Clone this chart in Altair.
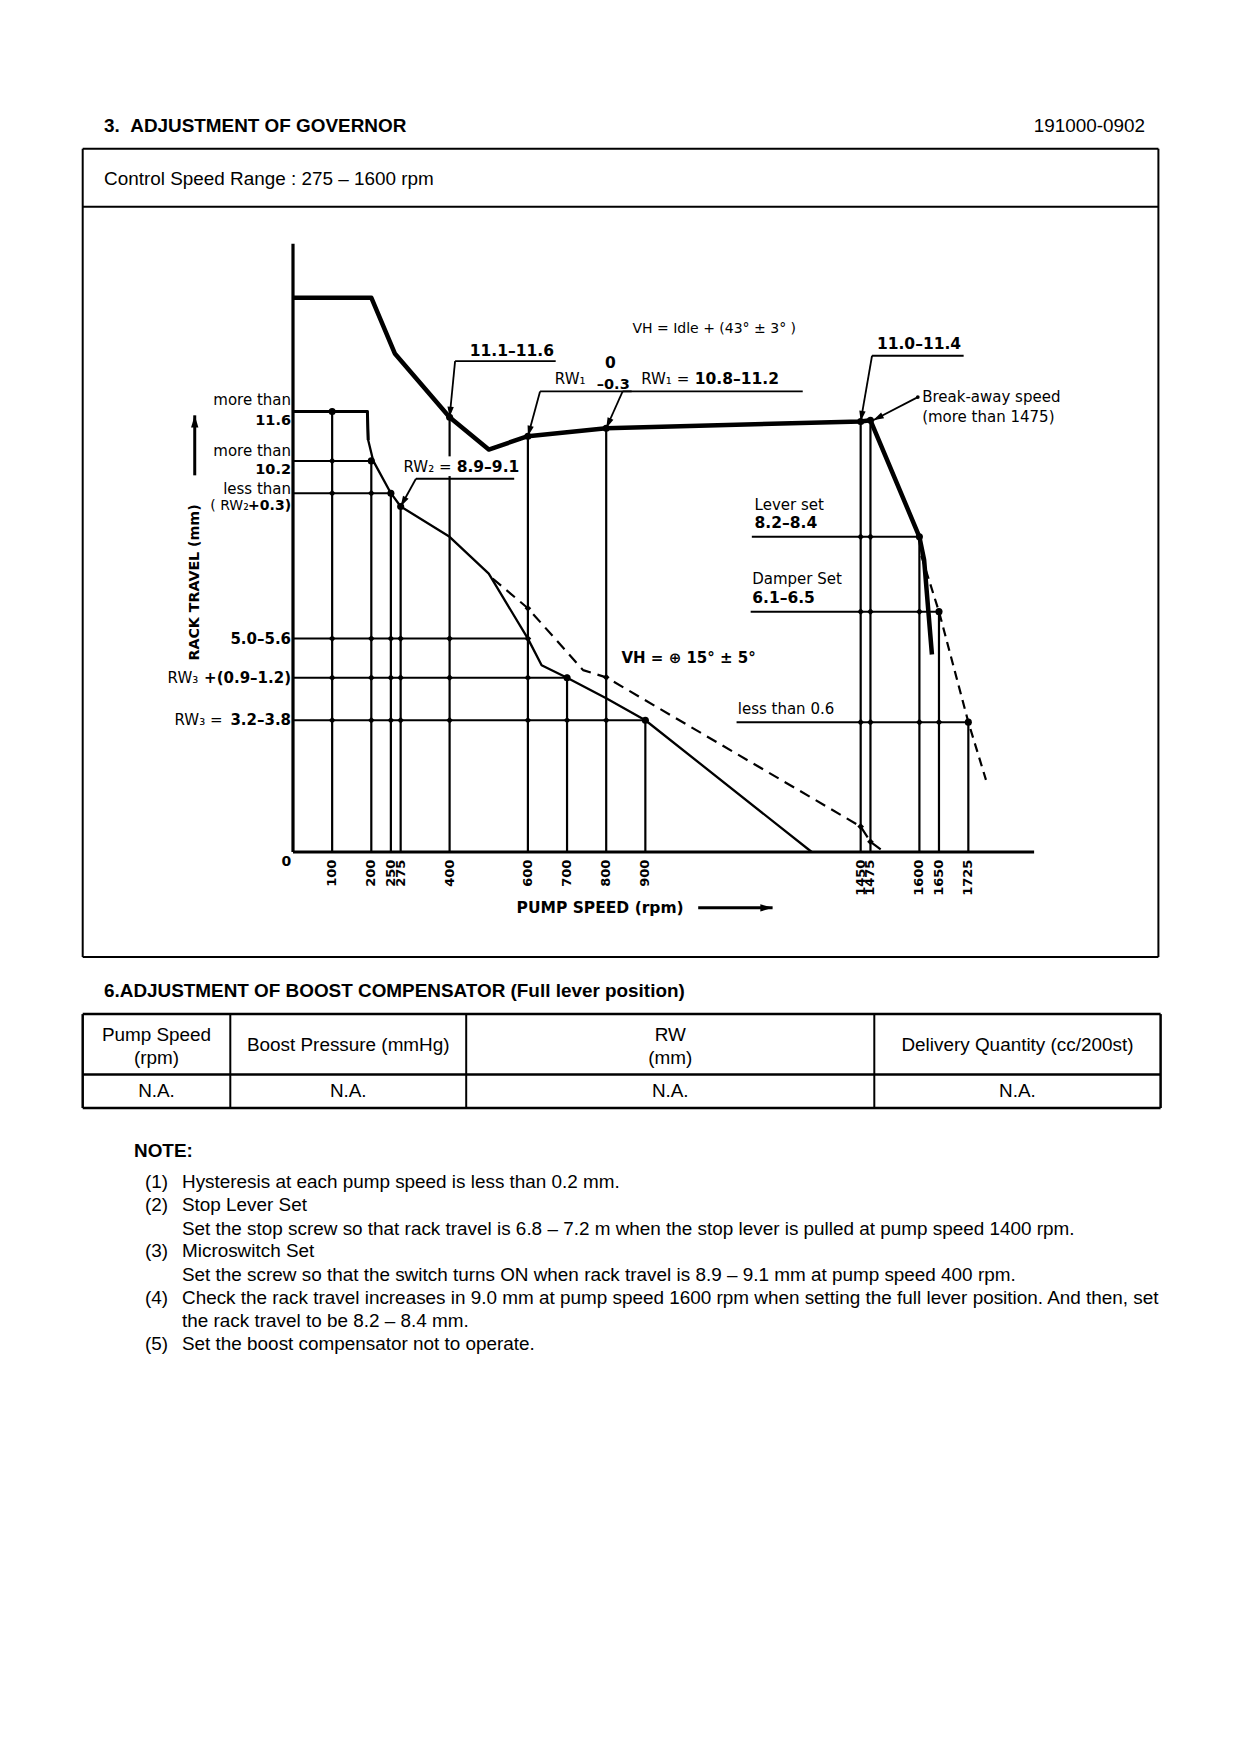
import math
import altair as alt
import pandas as pd

# ---------------- values ----------------
# full-load (thick) curve: pump speed (rpm) / rack travel (mm)
top_rpm = [0, 200, 260, 400, 500, 600, 800, 1450, 1475, 1600, 1612, 1632]
top_mm = [14.6, 14.6, 13.13, 11.45, 10.6, 10.95, 11.16, 11.34, 11.37, 8.3, 7.7, 5.2]

# lower (thin) curve
low_rpm = [0, 100, 190, 192, 205, 250, 275, 400, 500, 600, 635, 700, 800, 900, 1325]
low_mm = [11.6, 11.6, 11.6, 10.85, 10.3, 9.45, 9.1, 8.3, 7.33, 5.62, 4.92, 4.59, 4.05, 3.47, 0.0]

# dashed VH = 15 deg curve
vh_rpm = [510, 600, 741, 800, 1450, 1475, 1510]
vh_mm = [7.2, 6.42, 4.79, 4.6, 0.67, 0.27, 0.0]

# dashed high-speed curve
hs_rpm = [1605, 1650, 1725, 1770]
hs_mm = [7.8, 6.33, 3.42, 1.9]

# rpm ticks and height of each vertical guide
tick_rpm = [100, 200, 250, 275, 400, 600, 700, 800, 900, 1450, 1475, 1600, 1650, 1725]
tick_top = [11.6, 10.3, 9.45, 9.1, 11.45, 10.95, 4.59, 11.16, 3.47, 11.34, 11.37, 8.3, 6.33, 3.42]

# left horizontal levels (mm) and their end (rpm)
lev_mm = [11.6, 10.3, 9.45, 5.62, 4.59, 3.47]
lev_end = [190, 205, 250, 600, 700, 900]

# right horizontal levels
rlev_mm = [8.3, 6.33, 3.42]
rlev_start = [1172, 1169, 1133]
rlev_end = [1600, 1650, 1725]

# leader lines (from label to point) and underlines
leader_from_rpm = [414, 631, 842, 1479, 1596, 314]
leader_from_mm = [12.93, 12.13, 12.13, 13.07, 11.98, 9.83]
leader_to_rpm = [400, 600, 800, 1450, 1482, 275]
leader_to_mm = [11.45, 10.95, 11.16, 11.34, 11.37, 9.1]
under_from = [414, 631, 842, 1479, 314]
under_to = [671, 865, 1302, 1713, 565]
under_mm = [12.93, 12.13, 12.13, 13.07, 9.83]

tick_labels = [str(v) for v in tick_rpm]

notes_num = ["(1)", "(2)", "", "(3)", "", "(4)", "", "(5)"]
notes_txt = [
    "Hysteresis at each pump speed is less than 0.2 mm.",
    "Stop Lever Set",
    "Set the stop screw so that rack travel is 6.8 \u2013 7.2 m when the stop lever is pulled at pump speed 1400 rpm.",
    "Microswitch Set",
    "Set the screw so that the switch turns ON when rack travel is 8.9 \u2013 9.1 mm at pump speed 400 rpm.",
    "Check the rack travel increases in 9.0 mm at pump speed 1600 rpm when setting the full lever position. And then, set",
    "the rack travel to be 8.2 \u2013 8.4 mm.",
    "Set the boost compensator not to operate.",
]
table_head = [["Pump Speed", "(rpm)"], ["Boost Pressure (mmHg)"], ["RW", "(mm)"], ["Delivery Quantity (cc/200st)"]]
table_vals = ["N.A.", "N.A.", "N.A.", "N.A."]

# ---------------- layout ----------------
FONT = "Liberation Sans"
GFONT = "DejaVu Sans"
PSIZE = 18.9
W, H = 1224, 1700
PX_RPM = 0.3915
PX_MM = 37.97
OX = 293 - 8
OY = 852 - 8
xs = alt.Scale(domain=[-OX / PX_RPM, (W - OX) / PX_RPM], nice=False, zero=False)
ys = alt.Scale(domain=[(OY - H) / PX_MM, OY / PX_MM], nice=False, zero=False)
XE = alt.X("x:Q", scale=xs, axis=None)
YE = alt.Y("y:Q", scale=ys, axis=None)
ONE = pd.DataFrame({"k": [0]})
ARROW = "M0,0L-0.3,1L0.3,1Z"


def poly(rs, ms, width, dash=None):
    df = pd.DataFrame({"x": rs, "y": ms, "o": list(range(len(rs)))})
    kw = dict(color="black", strokeWidth=width, strokeJoin="round")
    if dash:
        kw["strokeDash"] = dash
    return alt.Chart(df).mark_line(**kw).encode(x=XE, y=YE, order="o:Q")


def segs(rows, width, color="black"):
    df = pd.DataFrame(rows, columns=["x", "y", "x2", "y2"])
    return alt.Chart(df).mark_rule(color=color, strokeWidth=width).encode(
        x=XE, y=YE, x2="x2:Q", y2="y2:Q")


def dots(rows, shape, size):
    df = pd.DataFrame(rows, columns=["x", "y"])
    return alt.Chart(df).mark_point(shape=shape, size=size, filled=True, color="black", opacity=1).encode(x=XE, y=YE)


def heads(rows, size=450):
    recs = []
    for x1, y1, x2, y2 in rows:
        dxp = (x2 - x1) * PX_RPM
        dyp = -(y2 - y1) * PX_MM
        ang = math.degrees(math.atan2(dxp, -dyp)) % 360
        recs.append({"x": x2, "y": y2, "a": ang})
    df = pd.DataFrame(recs)
    return alt.Chart(df).mark_point(shape=ARROW, size=size, filled=True, color="black", opacity=1,
                                    strokeWidth=0).encode(
        x=XE, y=YE, angle=alt.Angle("a:Q", scale=None))


def dtext(rows, size, weight="normal", align="left", angle=None):
    df = pd.DataFrame(rows, columns=["t", "x", "y"])
    mk = dict(align=align, baseline="middle", fontSize=size, fontWeight=weight, font=GFONT, color="black")
    if angle is not None:
        mk["angle"] = angle
    return alt.Chart(df).mark_text(**mk).encode(x=XE, y=YE, text="t:N")


def ptext(t, px, py, size=PSIZE, weight="normal", align="left"):
    return alt.Chart(pd.DataFrame({"t": [t]})).mark_text(
        align=align, baseline="middle", fontSize=size, fontWeight=weight, font=FONT, color="black"
    ).encode(x=alt.value(px - 8), y=alt.value(py - 8), text="t:N")


def prule(x1, y1, x2, y2, w=2):
    return alt.Chart(ONE).mark_rule(color="black", strokeWidth=w).encode(
        x=alt.value(x1 - 8), y=alt.value(y1 - 8), x2=alt.value(x2 - 8), y2=alt.value(y2 - 8))


layers = []

# ---- page furniture ----
layers.append(ptext("3.\u00a0\u00a0ADJUSTMENT OF GOVERNOR", 104, 125.5, weight="bold"))
layers.append(ptext("191000-0902", 1145, 125.5, align="right"))
BX1, BX2, BY1, BY2, BSEP = 82.7, 1158.4, 148.7, 957.1, 206.8
layers += [prule(BX1, BY1, BX2, BY1), prule(BX1, BY2, BX2, BY2), prule(BX1, BY1, BX1, BY2),
           prule(BX2, BY1, BX2, BY2), prule(BX1, BSEP, BX2, BSEP)]
layers.append(ptext("Control Speed Range : 275 \u2013 1600 rpm", 104, 179))

layers.append(ptext("6.ADJUSTMENT OF BOOST COMPENSATOR (Full lever position)", 104, 990.6, weight="bold"))
TX1, TX2, TY1, TY2, TMID = 82.7, 1160.6, 1014.1, 1108.0, 1074.5
cols = [TX1, 230.3, 466.2, 874.3, TX2]
layers += [prule(TX1, TY1, TX2, TY1, 2.5), prule(TX1, TY2, TX2, TY2, 2.5), prule(TX1, TMID, TX2, TMID, 2.5)]
for c in cols:
    layers.append(prule(c, TY1, c, TY2, 2 if c not in (TX1, TX2) else 2.5))
for i, head in enumerate(table_head):
    cx = (cols[i] + cols[i + 1]) / 2
    if len(head) == 2:
        layers.append(ptext(head[0], cx, 1035.3, align="center"))
        layers.append(ptext(head[1], cx, 1057.7, align="center"))
    else:
        layers.append(ptext(head[0], cx, 1045.4, align="center"))
    layers.append(ptext(table_vals[i], cx, 1091.2, align="center"))

layers.append(ptext("NOTE:", 134, 1150.5, weight="bold"))
note_y = [1181.8, 1205.3, 1228.7, 1251.1, 1274.6, 1298.0, 1320.5, 1344.0]
for n, t, yy in zip(notes_num, notes_txt, note_y):
    if n:
        layers.append(ptext(n, 145, yy))
    layers.append(ptext(t, 182, yy))

# ---- graph: guide lines ----
vrows = [(r, 0, r, t) for r, t in zip(tick_rpm, tick_top)]
layers.append(segs(vrows, 2.2))
hrows = [(0, m, e, m) for m, e in zip(lev_mm, lev_end)]
hrows += [(s, m, e, m) for m, s, e in zip(rlev_mm, rlev_start, rlev_end)]
layers.append(segs(hrows, 2.0))
# gap in the 400 rpm guide behind the RW2 label
layers.append(segs([(400, 9.9, 400, 10.42)], 6, color="white"))

# axes
layers.append(segs([(0, 0, 0, 16.02), (0, 0, 1893, 0)], 3.2))

# curves
layers.append(poly(low_rpm[:4], low_mm[:4], 3))
layers.append(poly(low_rpm, low_mm, 2.3))
layers.append(poly(vh_rpm, vh_mm, 2.2, dash=[11, 7]))
layers.append(poly(hs_rpm, hs_mm, 2.2, dash=[9, 6]))
layers.append(poly(top_rpm, top_mm, 4.5))

# intersection dots
cross = []
for r, t in zip(tick_rpm, tick_top):
    for m, s, e in zip(lev_mm + rlev_mm, [0] * len(lev_mm) + rlev_start, lev_end + rlev_end):
        if s <= r <= e and m <= t + 1e-6:
            cross.append((r, m))
cross += [(r, m) for r, m in zip(vh_rpm, vh_mm) if r in tick_rpm]
layers.append(dots(cross, "diamond", 45))
layers.append(dots(list(zip(tick_rpm, tick_top)), "circle", 50))

# leaders
lrows = list(zip(leader_from_rpm, leader_from_mm, leader_to_rpm, leader_to_mm))
layers.append(segs(lrows, 1.8))
layers.append(segs([(a, m, b, m) for a, b, m in zip(under_from, under_to, under_mm)], 1.8))
layers.append(heads(lrows))
layers.append(dots([(1596, 11.98)], "circle", 14))

# rack travel / pump speed arrows
arrows = [(-251, 9.92, -251, 11.5), (1035, -1.47, 1225, -1.47)]
layers.append(segs(arrows, 3))
layers.append(heads(arrows, 600))

# ---- graph texts ----
layers.append(dtext([(s, r, -0.2) for s, r in zip(tick_labels, tick_rpm)], 13, "bold", "right", angle=270))
layers.append(dtext([("0", -17, -0.27)], 14, "bold", "center"))
layers.append(dtext([("RACK TRAVEL (mm)", -251, 7.1)], 14.2, "bold", "center", angle=270))
layers.append(dtext([("PUMP SPEED (rpm)", 571, -1.47)], 15.5, "bold", "left"))

# y-axis level labels (right aligned against the axis)
layers.append(dtext([("more than", -5, 11.9), ("more than", -5, 10.57), ("less than", -5, 9.57)],
                    15, "normal", "right"))
layers.append(dtext([("+0.3)", -5, 9.1)], 14, "bold", "right"))
layers.append(dtext([("11.6", -5, 11.34), ("10.2", -5, 10.07)], 14.5, "bold", "right"))
layers.append(dtext([("5.0\u20135.6", -5, 5.62), ("+(0.9\u20131.2)", -5, 4.59), ("3.2\u20133.8", -5, 3.47)],
                    15, "bold", "right"))
layers.append(dtext([("( RW\u2082", -113, 9.1)], 14, "normal", "right"))
layers.append(dtext([("RW\u2083", -242, 4.59), ("RW\u2083 =", -180, 3.47)], 15, "normal", "right"))

# annotations
layers.append(dtext([("11.1\u201311.6", 559, 13.2), ("0", 811, 12.87), ("11.0\u201311.4", 1599, 13.37)],
                    15.5, "bold", "center"))
layers.append(dtext([("\u20130.3", 818, 12.31)], 14.5, "bold", "center"))
layers.append(dtext([("VH = Idle + (43\u00b0 \u00b1 3\u00b0 )", 1076, 13.78)], 14, "normal", "center"))
layers.append(dtext([("RW\u2081", 708, 12.46)], 15, "normal", "center"))
layers.append(dtext([("RW\u2081 =", 1012, 12.46), ("RW\u2082 =", 405, 10.13)], 15, "normal", "right"))
layers.append(dtext([("10.8\u201311.2", 1026, 12.46), ("8.9\u20139.1", 418, 10.13),
                     ("8.2\u20138.4", 1179, 8.66), ("6.1\u20136.5", 1173, 6.68)], 15.5, "bold", "left"))
layers.append(dtext([("VH = \u2295 15\u00b0 \u00b1 5\u00b0", 839, 5.12)], 15, "bold", "left"))
layers.append(dtext([("Break-away speed", 1607, 11.98), ("(more than 1475)", 1607, 11.45),
                     ("Lever set", 1179, 9.13), ("Damper Set", 1173, 7.18),
                     ("less than 0.6", 1136, 3.77)], 15, "normal", "left"))

chart = alt.layer(*layers).properties(
    width=W, height=H, autosize=alt.AutoSizeParams(type="none"), padding=0, background="white"
).configure_view(stroke=None)

chart.save("out.html", embed_options={"renderer": "svg", "actions": False})
